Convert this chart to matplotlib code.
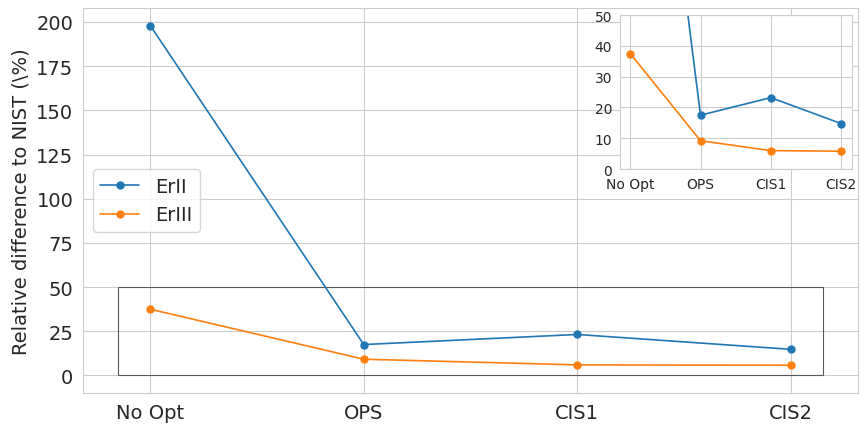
import matplotlib
matplotlib.use("Agg")
import matplotlib.pyplot as plt
from matplotlib.patches import Rectangle
import seaborn as sns

methods = ["No Opt", "OPS", "CIS1", "CIS2"]
er_ii = [198.0, 17.5, 23.2, 14.8]
er_iii = [37.5, 9.2, 6.0, 5.8]

sns.set_style("whitegrid")

fig = plt.figure(figsize=(8.68, 4.35), dpi=100)
ax = fig.add_axes([0.0956, 0.0943, 0.893, 0.885])

x = list(range(len(methods)))
ax.plot(x, er_ii, marker="o", markersize=5, lw=1.2, label="ErII")
ax.plot(x, er_iii, marker="o", markersize=5, lw=1.2, label="ErIII")

# box marking the zoomed region
zoom_box = Rectangle((-0.15, 0), 3.3, 50, fill=False, edgecolor="0.35", lw=0.8)
ax.add_patch(zoom_box)
ax.autoscale_view()

ax.set_xticks(x)
ax.set_xticklabels(methods)
ax.tick_params(labelsize=14)
ax.set_ylabel("Relative difference to NIST (\\%)", fontsize=14)
ax.legend(loc="center left", fontsize=14)

# inset
axins = fig.add_axes([0.714, 0.609, 0.267, 0.354])
axins.plot(x, er_ii, marker="o", markersize=5, lw=1.2)
axins.plot(x, er_iii, marker="o", markersize=5, lw=1.2)
axins.set_ylim(0, 50)
axins.set_xticks(x)
axins.set_xticklabels(methods)
axins.tick_params(labelsize=10, pad=2)

fig.savefig("out.png", dpi=100)
